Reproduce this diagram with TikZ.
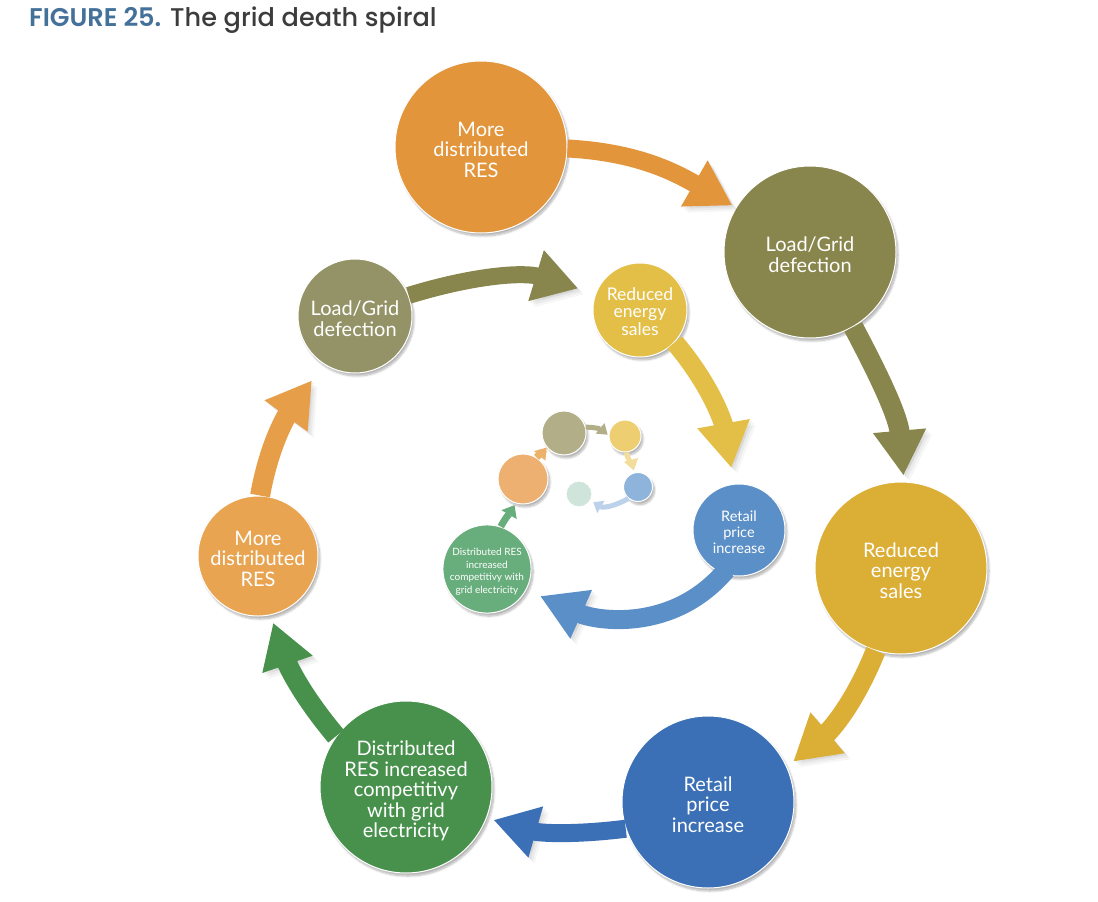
\documentclass[tikz,border=0pt]{standalone}
\usepackage{fontspec}
\setmainfont{Lato}
\newfontfamily\titlefont{Poppins}[UprightFont=* Medium,BoldFont=* SemiBold]
\usetikzlibrary{positioning,arrows.meta,shadows.blur}
\definecolor{orangeA}{HTML}{E2953B}
\definecolor{oliveA}{HTML}{88864C}
\definecolor{yellowA}{HTML}{DBAE36}
\definecolor{blueA}{HTML}{3B70B6}
\definecolor{greenA}{HTML}{48914C}
\definecolor{orangeB}{HTML}{E9A451}
\definecolor{oliveB}{HTML}{949367}
\definecolor{yellowB}{HTML}{E3BF48}
\definecolor{blueB}{HTML}{5B8FC7}
\definecolor{greenB}{HTML}{68AD7C}
\definecolor{orangeC}{HTML}{EEB071}
\definecolor{oliveC}{HTML}{B2AF88}
\definecolor{yellowC}{HTML}{EDCF72}
\definecolor{blueC}{HTML}{8FB4DC}
\definecolor{greenC}{HTML}{CFE5DC}
\definecolor{titleblue}{HTML}{44719A}
\definecolor{titledark}{HTML}{3C3C3C}
\begin{document}
\begin{tikzpicture}[%
		x=1pt,
		y=-1pt,
		blob/.style={%
			circle,
			draw=white,
			line width=1pt,
			inner sep=0pt,
			text=white,
			align=center,
			text depth=0pt,
			blur shadow={shadow blur steps=8,shadow xshift=2pt,shadow yshift=-3pt,shadow opacity=30}
		},
		big/.style={blob,minimum size=172pt,font=\fontsize{20}{20.5}\selectfont},
		mid/.style={blob,font=\fontsize{20}{20.5}\selectfont},
		flow/.style n args={4}{%
			draw=#2,
			line width=#1,
			shorten >=#3,
			-{Triangle[length=#4,width=50pt]},
			preaction={draw=black,opacity=.035,transform canvas={shift={(6pt,-6pt)}}},
			preaction={draw=black,opacity=.045,transform canvas={shift={(4pt,-4pt)}}},
			preaction={draw=black,opacity=.05,transform canvas={shift={(2pt,-2pt)}}}
		},
		thin flow/.style n args={5}{%
			draw=#2,
			line width=#1,
			shorten >=#3,
			-{Triangle[length=#4,width=#5]}
		}
		]
		\useasboundingbox (0,0) rectangle (1098,902);
		\node[anchor=base west,inner sep=0pt] (title) at (29,27) {\titlefont\fontsize{25.6}{28}\selectfont\textcolor{titleblue}{\bfseries FIGURE 25.} \textcolor{titledark}{The grid death spiral}};
		% outer turn
		\node[big,text height=60pt,fill=orangeA] (more1)   at (481,147) {More\\distributed\\RES};
		\node[big,text height=40pt,fill=oliveA]  (load1)   at (810,252) {Load/Grid\\defection};
		\node[big,text height=60pt,fill=yellowA] (sales1)  at (901,568) {Reduced\\energy\\sales};
		\node[big,text height=60pt,fill=blueA]   (retail1) at (708,802) {Retail\\price\\increase};
		\node[big,text height=101pt,fill=greenA] (dist1)   at (406,787) {Distributed\\RES increased\\competitivy\\with grid\\electricity};
		% second turn
		\node[mid,text height=60pt,minimum size=120pt,fill=orangeB] (more2) at (258,556) {More\\distributed\\RES};
		\node[mid,text height=40pt,minimum size=114pt,fill=oliveB]  (load2) at (355,316) {Load/Grid\\defection};
		\node[blob,text height=50pt,minimum size=94pt,fill=yellowB,font=\fontsize{17.5}{17.5}\selectfont] (sales2) at (640,310) {Reduced\\energy\\sales};
		\node[blob,text height=47pt,minimum size=92pt,fill=blueB,font=\fontsize{14.5}{16}\selectfont] (retail2) at (739,530) {Retail\\price\\increase};
		\node[blob,text height=48pt,minimum size=86pt,fill=greenB,font=\fontsize{10}{12.5}\selectfont] (dist2) at (487,569) {Distributed RES\\increased\\competitivy with\\grid electricity};
		% inner turn
		\node[blob,minimum size=50pt,fill=orangeC] (more3)   at (523,479) {};
		\node[blob,minimum size=44pt,fill=oliveC]  (load3)   at (564,433) {};
		\node[blob,minimum size=32pt,fill=yellowC] (sales3)  at (625,436) {};
		\node[blob,minimum size=29pt,fill=blueC]   (retail3) at (638,487) {};
		\node[blob,minimum size=26pt,fill=greenC,blur shadow={shadow opacity=0}] (dist3) at (579,494) {};

		\path (more1.-1)    edge [flow={18pt}{orangeA}{4pt}{44pt},out=-3,in=150]     (load1.149)
		(load1.-60)         edge [flow={20pt}{oliveA}{6pt}{45pt},out=-62,in=95]      (sales1.88)
		(sales1.-107)       edge [flow={20pt}{yellowA}{8pt}{45pt},out=-112,in=40]    (retail1.24)
		(retail1.198)       edge [flow={18pt}{blueA}{7pt}{44pt},out=187,in=-16]      (dist1.-21)
		(dist1.144)         edge [flow={20pt}{greenA}{8pt}{44pt},out=130,in=-71]     (more2.-78)
		(more2.88)          edge [flow={20pt}{orangeB!60!orangeA}{20pt}{44pt},out=80,in=234]   (load2.-123)
		(load2.21)          edge [flow={17pt}{oliveA}{18pt}{44pt},out=17,in=163]     (sales2.160)
		(sales2.-43)        edge [flow={19pt}{yellowB}{16pt}{45pt},out=-50,in=100]   (retail2.96)
		(retail2.-110)      edge [flow={19pt}{blueB}{15pt}{45pt},shorten <=-5pt,out=-130,in=-24] (dist2.-28);

		\path (dist2.72)    edge [thin flow={7pt}{greenB}{2pt}{11pt}{17pt},out=62,in=-120]    (more3.-107)
		(more3.58)          edge [thin flow={7pt}{orangeB!85}{0pt}{11pt}{14pt},out=50,in=-130] (load3.-140)
		(load3.15)          edge [thin flow={5pt}{oliveC}{1pt}{10pt}{13pt},out=0,in=140]      (sales3.178)
		(sales3.-85)        edge [thin flow={5pt}{yellowC!70!white}{2pt}{11pt}{14pt},out=-80,in=105]   (retail3.104)
		(retail3.-130)      edge [thin flow={5pt}{blueC!60}{3pt}{9pt}{14pt},out=-150,in=-31]  (dist3.-30);
		\end{tikzpicture}
\end{document}
